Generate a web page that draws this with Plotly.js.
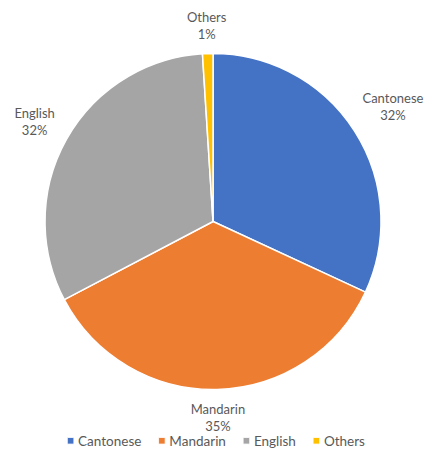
<!DOCTYPE html>
<html>
<head>
<meta charset="utf-8">
<script src="https://cdn.plot.ly/plotly-3.0.1.min.js"></script>
<style>html,body{margin:0;padding:0;background:#fff;}#chart{width:436px;height:457px;}</style>
</head>
<body>
<div id="chart"></div>
<script>
const categories = ["Cantonese", "Mandarin", "English", "Others"];
const shares = [31.9, 35.4, 31.7, 1.0];
const colors = ["#4472C4", "#ED7D31", "#A5A5A5", "#FFC000"];

const W = 436, H = 457;
const pieDomain = {x: [0.1032, 0.8739], y: [0.1477, 0.8829]};

const trace = {
  type: "pie",
  labels: categories,
  values: shares,
  sort: false,
  direction: "clockwise",
  rotation: 0,
  domain: pieDomain,
  marker: {colors: colors, line: {color: "#ffffff", width: 1.5}},
  textposition: "outside",
  texttemplate: "%{label}<br>%{percent:.0%}",
  textfont: {family: "Lato, sans-serif", size: 13, color: "#595959"},
  hoverinfo: "label+percent",
  automargin: false
};

const layout = {
  width: W,
  height: H,
  margin: {l: 0, r: 0, t: 0, b: 0},
  paper_bgcolor: "#ffffff",
  showlegend: true,
  legend: {
    orientation: "h",
    x: 0.5, xanchor: "center",
    y: 0.035, yanchor: "middle",
    bgcolor: "rgba(0,0,0,0)",
    font: {family: "Lato, sans-serif", size: 13.5, color: "#595959"},
    itemwidth: 30,
    traceorder: "normal"
  }
};

function parseT(s) {
  const m = /translate\(\s*([-\d.e]+)[ ,]+([-\d.e]+)/.exec(s || '');
  return m ? [parseFloat(m[1]), parseFloat(m[2])] : [0, 0];
}

Plotly.newPlot("chart", [trace], layout, {displayModeBar: false, staticPlot: true}).then(function(gd){
  // --- place outside labels radially around the pie, Excel "best fit" style ---
  const cx = (pieDomain.x[0] + pieDomain.x[1]) / 2 * W;
  const cy = (1 - (pieDomain.y[0] + pieDomain.y[1]) / 2) * H;
  const r = Math.min((pieDomain.x[1] - pieDomain.x[0]) * W, (pieDomain.y[1] - pieDomain.y[0]) * H) / 2;
  const total = shares.reduce(function(a, b){ return a + b; }, 0);
  const svgRect = gd.querySelector('.main-svg').getBoundingClientRect();
  const slices = Array.from(gd.querySelectorAll('.slice'));
  let cum = 0;
  slices.forEach(function(s, i){
    const frac = shares[i] / total;
    const mid = (cum + frac / 2) * 2 * Math.PI;
    cum += frac;
    const g = s.querySelector('.slicetext');
    if (!g) return;
    const b = g.getBoundingClientRect();
    const w = b.width, h = b.height;
    const sn = Math.sin(mid), cs = Math.cos(mid);
    const d = r + 11 + Math.abs(sn) * w / 2 + Math.abs(cs) * h / 2;
    const tx = cx + d * sn, ty = cy - d * cs;
    const curX = b.left - svgRect.left + w / 2, curY = b.top - svgRect.top + h / 2;
    g.setAttribute('transform', 'translate(' + (tx - curX) + ',' + (ty - curY) + ')');
  });

  // --- compact legend entries (small square markers, tight spacing) ---
  const legend = gd.querySelector('.legend');
  if (!legend) return;
  const bg = legend.querySelector('rect.bg');
  if (bg) bg.style.display = 'none';
  const lx = parseT(legend.getAttribute('transform'))[0];
  const items = Array.from(legend.querySelectorAll('.traces'));
  const markerW = 7, gapAfterMarker = 4, gapBetween = 17;
  const widths = items.map(function(t){
    const el = t.querySelector('.legendtext');
    return el ? el.getComputedTextLength() : 0;
  });
  let tot = 0;
  widths.forEach(function(w, i){ tot += markerW + gapAfterMarker + w + (i < widths.length - 1 ? gapBetween : 0); });
  let x = 216 - tot / 2 - lx;
  items.forEach(function(t, i){
    const ty = parseT(t.getAttribute('transform'))[1];
    t.setAttribute('transform', 'translate(' + x + ',' + ty + ')');
    t.querySelectorAll('.legendpoints path').forEach(function(p){
      p.setAttribute('transform', 'translate(' + (markerW / 2) + ',0) scale(0.55)');
    });
    const el = t.querySelector('.legendtext');
    if (el) el.setAttribute('x', markerW + gapAfterMarker);
    x += markerW + gapAfterMarker + widths[i] + gapBetween;
  });
  legend.querySelectorAll('[clip-path]').forEach(function(el){ el.removeAttribute('clip-path'); });
});
</script>
</body>
</html>
